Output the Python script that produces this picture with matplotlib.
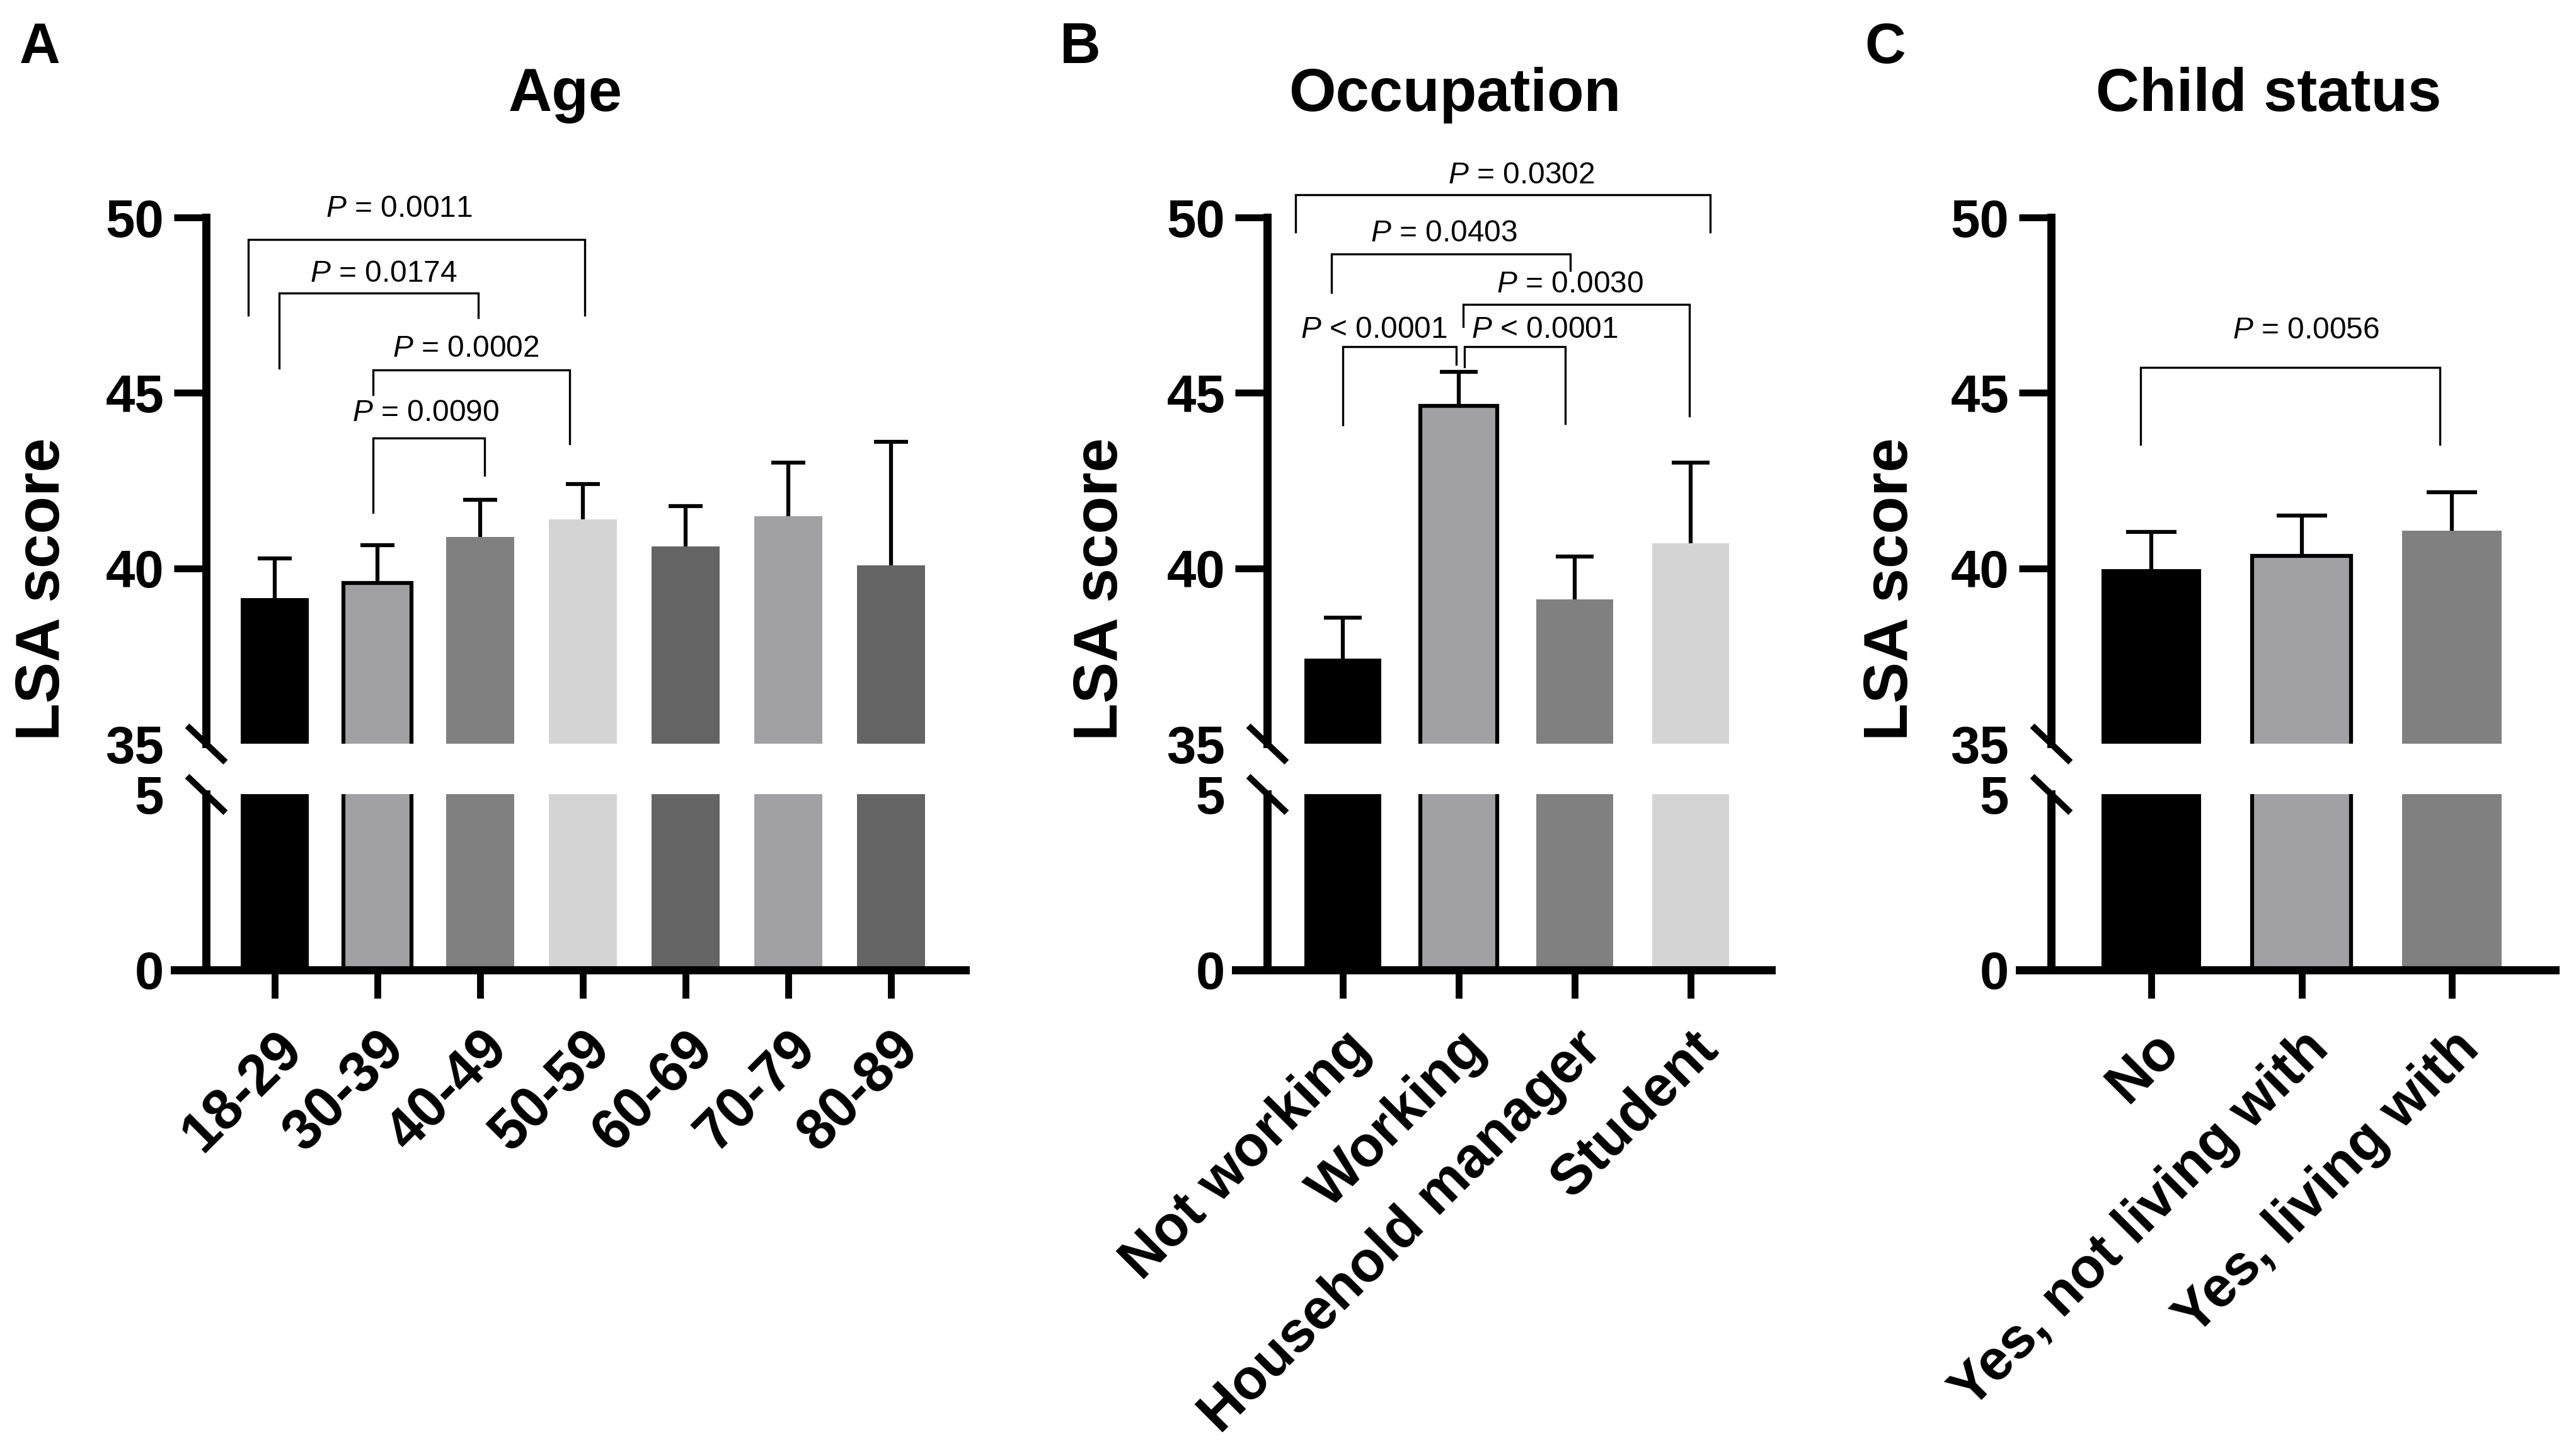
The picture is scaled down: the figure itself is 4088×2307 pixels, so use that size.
import matplotlib
matplotlib.use('Agg')
import matplotlib.pyplot as plt
import numpy as np
from matplotlib.path import Path

plt.rcParams['font.family'] = ['Liberation Sans', 'DejaVu Sans']
plt.rcParams['mathtext.fontset'] = 'custom'
plt.rcParams['mathtext.it'] = 'Liberation Sans:italic'
plt.rcParams['mathtext.rm'] = 'Liberation Sans'

# ---------------- data ----------------
age_groups = ['18-29', '30-39', '40-49', '50-59', '60-69', '70-79', '80-89']
age_mean = [39.15, 39.58, 40.90, 41.40, 40.63, 41.48, 40.08]
age_err = [1.13, 1.07, 1.05, 1.00, 1.15, 1.54, 3.52]

occ_groups = ['Not working', 'Working', 'Household manager', 'Student']
occ_mean = [37.42, 44.62, 39.11, 40.72]
occ_err = [1.17, 0.97, 1.23, 2.29]

child_groups = ['No', 'Yes, not living with', 'Yes, living with']
child_mean = [39.98, 40.35, 41.07]
child_err = [1.06, 1.16, 1.09]

# comparisons: (label, group_a, group_b, bracket_y, leg_a_bottom, leg_b_bottom, text_x, text_y)
age_comps = [
    ('= 0.0011', -0.26, 3.02, 49.38, 47.21, 47.21, 1.21, 50.25),
    ('= 0.0174', 0.04, 1.98, 47.85, 45.70, 47.14, 1.06, 48.40),
    ('= 0.0002', 0.96, 2.87, 45.66, 44.96, 43.55, 1.86, 46.26),
    ('= 0.0090', 0.96, 2.04, 43.71, 41.59, 42.66, 1.47, 44.43),
]
occ_comps = [
    ('= 0.0302', -0.41, 3.17, 50.64, 49.58, 49.58, 1.54, 51.20),
    ('= 0.0403', -0.10, 1.96, 48.95, 47.87, 48.50, 0.87, 49.55),
    ('= 0.0030', 1.04, 2.99, 47.52, 46.89, 44.35, 1.96, 48.09),
    ('< 0.0001', 0.00, 0.98, 46.31, 44.09, 45.81, 0.27, 46.80),
    ('< 0.0001', 1.05, 1.92, 46.31, 45.74, 44.13, 1.74, 46.80),
]
child_comps = [
    ('= 0.0056', -0.07, 1.92, 45.73, 43.53, 43.53, 1.03, 46.77),
]

# ---------------- styles ----------------
BLACK, G1, G2, G3, G4 = '#000000', '#A1A1A5', '#808080', '#D4D4D4', '#646464'
age_colors = [BLACK, G1, G2, G3, G4, G1, G4]
age_outline = [False, True, False, False, False, False, False]
occ_colors = [BLACK, G1, G2, G3]
occ_outline = [False, True, False, False]
child_colors = [BLACK, G1, G2]
child_outline = [False, True, False]

W, H = 4088, 2307
fig = plt.figure(figsize=(W / 300, H / 300), dpi=300)


def fx(px):
    return px / W


def fy(py):
    return 1 - py / H


UP_TOP, UP_BOT = 345, 1180
LO_TOP, LO_BOT = 1260, 1538.5

panels = [
    dict(cats=age_groups, means=age_mean, errs=age_err, colors=age_colors, outline=age_outline,
         comps=age_comps, title='Age', letter='A', x0=277, x1=1532, bar0=436, spacing=163,
         title_x=897, letter_x=63, ylabel_x=69, capsize=6.5),
    dict(cats=occ_groups, means=occ_mean, errs=occ_err, colors=occ_colors, outline=occ_outline,
         comps=occ_comps, title='Occupation', letter='B', x0=1961, x1=2811, bar0=2131, spacing=184,
         title_x=2309, letter_x=1714, ylabel_x=1747, capsize=7.1),
    dict(cats=child_groups, means=child_mean, errs=child_err, colors=child_colors, outline=child_outline,
         comps=child_comps, title='Child status', letter='C', x0=3205, x1=4055, bar0=3414, spacing=238.5,
         title_x=3600, letter_x=2992, ylabel_x=3001, capsize=9.5),
]

slash = Path([(-1, 0.95), (1, -0.95)], [Path.MOVETO, Path.LINETO])
SPINE_LW = 3.1

for p in panels:
    n = len(p['cats'])
    x = np.arange(n)
    means = np.array(p['means'])
    tops = means + np.array(p['errs'])
    xl = (p['x0'] - p['bar0']) / p['spacing']
    xr = (p['x1'] - p['bar0']) / p['spacing']
    xs = (p['x0'] + 50 - p['bar0']) / p['spacing']

    axU = fig.add_axes([fx(p['x0']), fy(UP_BOT), fx(p['x1']) - fx(p['x0']), (UP_BOT - UP_TOP) / H])
    axL = fig.add_axes([fx(p['x0']), fy(LO_BOT), fx(p['x1']) - fx(p['x0']), (LO_BOT - LO_TOP) / H])

    for ax in (axU, axL):
        ax.set_xlim(xl, xr)
        for i in range(n):
            ec = 'black' if p['outline'][i] else 'none'
            ax.bar(x[i], means[i], width=0.66, color=p['colors'][i], edgecolor=ec,
                   linewidth=1.5 if p['outline'][i] else 0, zorder=2)
        ax.spines['top'].set_visible(False)
        ax.spines['right'].set_visible(False)
        ax.spines['left'].set_position(('data', xs))
        ax.spines['left'].set_linewidth(SPINE_LW)
        ax.tick_params(axis='y', length=12.2, width=2.6, pad=3.8, labelsize=20, direction='out')
        ax.patch.set_alpha(0)

    # upper
    axU.set_ylim(35, 50)
    axU.spines['bottom'].set_visible(False)
    axU.set_xticks([])
    axU.set_yticks([35, 40, 45, 50])
    axU.set_yticklabels(['35', '40', '45', '50'], fontweight='bold')
    axU.yaxis.get_major_ticks()[0].tick1line.set_visible(False)
    # upper-only error bars
    axU.vlines(x, means, tops, colors='black', linewidth=1.5, zorder=1.5)
    axU.plot(x, tops, ls='none', marker='_', ms=2 * p['capsize'], mew=1.5, mec='black',
             zorder=1.5)
    axU.plot([xs], [35], marker=slash, ms=14.6, mew=2.4, mec='black', mfc='none', ls='none',
             clip_on=False, zorder=5)

    for (lab, a, b, yb, la, lb, tx, ty) in p['comps']:
        axU.plot([a, a, b, b], [la, yb, yb, lb], color='black', lw=0.8, clip_on=False,
                 solid_joinstyle='miter', zorder=3)
        axU.text(tx, ty, r'$\mathit{P}$ ' + lab, ha='center', va='center', fontsize=11.5,
                 fontweight='normal', clip_on=False)

    # lower
    axL.set_ylim(0, 5)
    axL.spines['bottom'].set_linewidth(SPINE_LW)
    axL.set_yticks([0, 5])
    axL.set_yticklabels(['0', '5'], fontweight='bold')
    for t in axL.yaxis.get_major_ticks():
        t.tick1line.set_visible(False)
    axL.plot([xs], [5], marker=slash, ms=14.6, mew=2.4, mec='black', mfc='none', ls='none',
             clip_on=False, zorder=5)
    axL.set_xticks(x)
    axL.set_xticklabels(p['cats'], rotation=45, ha='right', va='top', rotation_mode='anchor',
                        fontsize=21.5, fontweight='bold')
    axL.tick_params(axis='x', length=10.8, width=2.6, pad=9, direction='out')

    fig.text(fx(p['title_x']), fy(176), p['title'], ha='center', va='baseline', fontsize=23,
             fontweight='bold')
    fig.text(fx(p['letter_x']), fy(100), p['letter'], ha='center', va='baseline', fontsize=21.5,
             fontweight='bold')
    fig.text(fx(p['ylabel_x']), fy(935), 'LSA score', rotation=90, ha='center', va='center',
             fontsize=23.5, fontweight='bold')

fig.savefig('out.png', dpi=300)
